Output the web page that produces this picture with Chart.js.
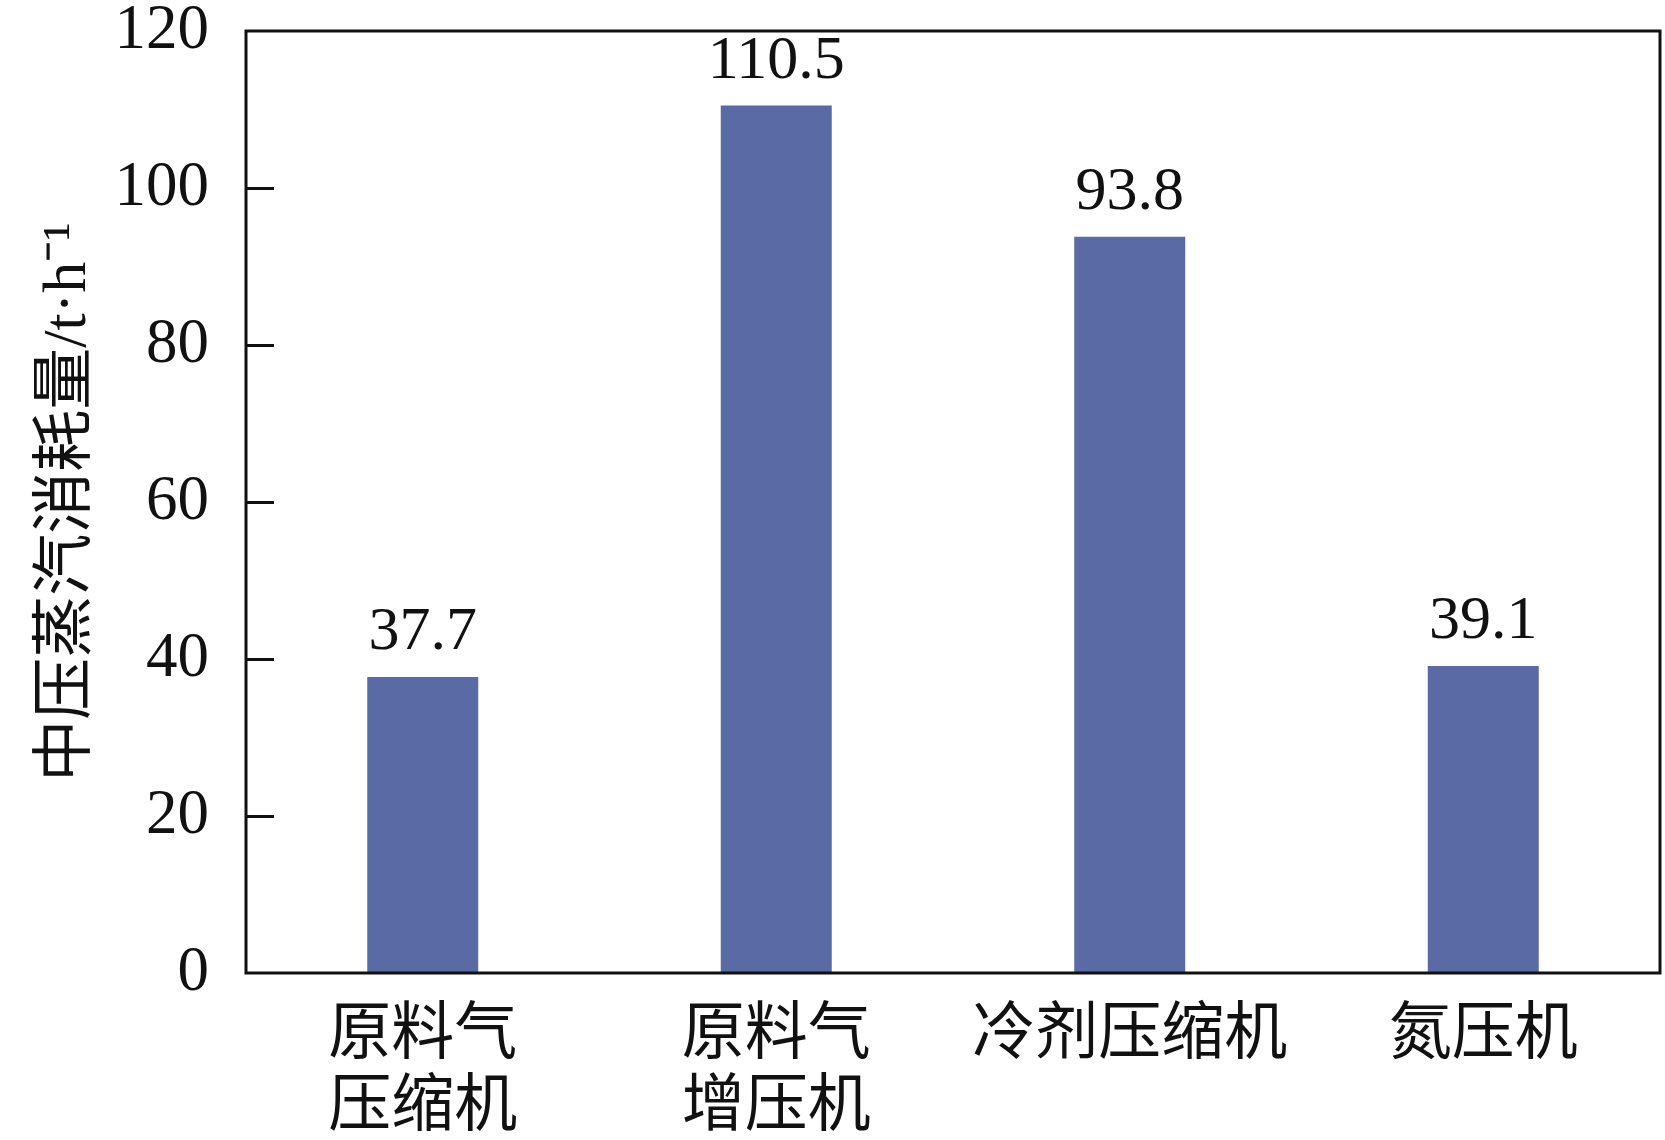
<!DOCTYPE html>
<html>
<head>
<meta charset="utf-8">
<script src="https://cdn.jsdelivr.net/npm/chart.js@4/dist/chart.umd.min.js"></script>
<style>
  html, body { margin: 0; padding: 0; background: #fff; }
  #wrap { width: 1665px; height: 1140px; }
</style>
</head>
<body>
<div id="wrap"><canvas id="grafico" width="1665" height="1140"></canvas></div>
<script>
const categorias = [['原料气', '压缩机'], ['原料气', '增压机'], '冷剂压缩机', '氮压机'];
const consumo = [37.7, 110.5, 93.8, 39.1];
const ticksY = [0, 20, 40, 60, 80, 100, 120];
const tituloY = '中压蒸汽消耗量/t·h⁻¹';

const serif = '"Liberation Serif", "Times New Roman", "Noto Sans CJK SC", serif';
const cjk = '"Liberation Serif", "Noto Sans CJK SC", serif';

// marco del área de trazado y marcas hacia dentro
const marco = {
  id: 'marco',
  afterDraw(chart) {
    const { ctx, chartArea: a, scales: { y } } = chart;
    ctx.save();
    ctx.strokeStyle = '#111';
    ctx.lineWidth = 3;
    ctx.strokeRect(a.left, a.top, a.right - a.left, a.bottom - a.top);
    ticksY.slice(1, -1).forEach((v) => {
      const py = Math.round(y.getPixelForValue(v)) + 0.5;
      ctx.beginPath();
      ctx.moveTo(a.left, py);
      ctx.lineTo(a.left + 28, py);
      ctx.stroke();
    });
    ctx.restore();
  }
};

// valores encima de las barras
const etiquetas = {
  id: 'etiquetas',
  afterDatasetsDraw(chart) {
    const { ctx } = chart;
    const meta = chart.getDatasetMeta(0);
    ctx.save();
    ctx.font = `62px ${serif}`;
    ctx.fillStyle = '#111';
    ctx.textAlign = 'center';
    ctx.textBaseline = 'alphabetic';
    meta.data.forEach((bar, i) => {
      ctx.fillText(consumo[i].toFixed(1), bar.x, bar.y - 28);
    });
    ctx.restore();
  }
};

new Chart(document.querySelector('#grafico'), {
  type: 'bar',
  data: {
    labels: categorias,
    datasets: [{
      data: consumo,
      backgroundColor: '#5a6aa5',
      borderWidth: 0,
      barPercentage: 0.314,
      categoryPercentage: 1
    }]
  },
  options: {
    responsive: false,
    animation: false,
    devicePixelRatio: 1,
    layout: { padding: { top: 31, right: 5, bottom: 0, left: 0 } },
    plugins: {
      legend: { display: false },
      tooltip: { enabled: false }
    },
    scales: {
      x: {
        grid: { display: false, drawTicks: false },
        border: { display: false },
        ticks: {
          color: '#111',
          padding: 28,
          maxRotation: 0,
          autoSkip: false,
          font: { family: cjk, size: 63, lineHeight: 1.14 }
        },
        afterFit(scale) {
          scale.height = 167;
          scale.paddingLeft = 0;
          scale.paddingRight = 0;
        }
      },
      y: {
        min: 0,
        max: 120,
        grid: { display: false, drawTicks: false },
        border: { display: false },
        afterBuildTicks(scale) {
          scale.ticks = ticksY.map((v) => ({ value: v }));
        },
        ticks: {
          color: '#111',
          padding: 37,
          font: { family: serif, size: 63, lineHeight: 1 }
        },
        title: {
          display: true,
          text: tituloY,
          color: '#111',
          padding: { top: 32, bottom: 0 },
          font: { family: cjk, size: 62, lineHeight: 1.2 }
        },
        afterFit(scale) {
          scale.width = 246;
          scale.paddingTop = 0;
          scale.paddingBottom = 0;
        }
      }
    }
  },
  plugins: [marco, etiquetas]
});
</script>
</body>
</html>
